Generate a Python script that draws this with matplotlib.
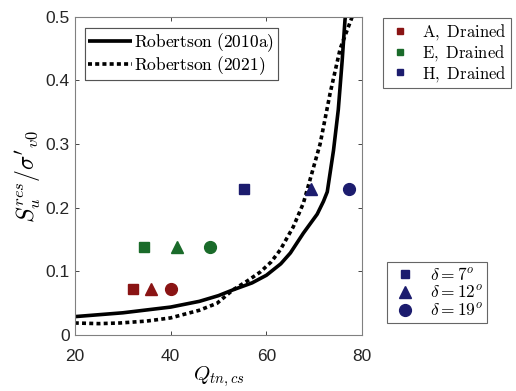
import matplotlib
matplotlib.use('Agg')
import matplotlib.pyplot as plt
from matplotlib.lines import Line2D

plt.rcParams['mathtext.fontset'] = 'cm'
plt.rcParams['font.family'] = ['Liberation Sans', 'DejaVu Sans']

# Robertson (2010a) curve
rob2010_q = [20, 30, 40, 46, 50, 53, 57, 60, 63, 65, 67.7, 70.6, 71.9, 72.7, 74, 75, 75.8, 76.4, 76.8]
rob2010_s = [0.029, 0.035, 0.044, 0.053, 0.062, 0.071, 0.082, 0.094, 0.112, 0.129, 0.160, 0.190, 0.210, 0.225, 0.29, 0.354, 0.43, 0.495, 0.52]

# Robertson (2021) curve
rob2021_q = [20, 25, 29.4, 35, 40, 46, 49.7, 53, 56, 58.7, 61, 62.9, 65.6, 67.7, 68.5, 71.2, 73.3, 75.4, 77.9, 78.3]
rob2021_s = [0.019, 0.018, 0.019, 0.022, 0.027, 0.039, 0.050, 0.071, 0.085, 0.099, 0.115, 0.134, 0.170, 0.207, 0.228, 0.30, 0.38, 0.45, 0.50, 0.52]

# test results: sand, delta, Qtn,cs, Su_res/sigma'v0
sands = ['A', 'E', 'H']
sand_colors = ['#8a1414', '#1a6b2a', '#1c1c6e']
deltas = [7, 12, 19]
delta_markers = ['s', '^', 'o']
q_values = [[32.2, 36.0, 40.0],
            [34.5, 41.3, 48.2],
            [55.4, 69.3, 77.3]]
s_values = [[0.072, 0.073, 0.072],
            [0.138, 0.139, 0.138],
            [0.230, 0.230, 0.230]]

fig = plt.figure(figsize=(5.16, 3.91), dpi=100)
ax = fig.add_axes([0.145, 0.143, 0.557, 0.814])

l1, = ax.plot(rob2010_q, rob2010_s, color='black', lw=2.6, solid_capstyle='butt')
l2, = ax.plot(rob2021_q, rob2021_s, color='black', lw=2.6, ls=(0, (1.1, 0.9)))

for i, sand in enumerate(sands):
    for j, mk in enumerate(delta_markers):
        size = 6.5 if mk == 's' else 8.5
        ax.plot(q_values[i][j], s_values[i][j], marker=mk, ls='none',
                color=sand_colors[i], markersize=size)

ax.set_xlim(20, 80)
ax.set_ylim(0, 0.5)
ax.set_xticks([20, 40, 60, 80])
ax.set_yticks([0, 0.1, 0.2, 0.3, 0.4, 0.5])
ax.set_yticklabels(['0', '0.1', '0.2', '0.3', '0.4', '0.5'])
ax.tick_params(direction='in', top=True, right=True, labelsize=12.5,
               colors='#262626', length=3, width=0.6)
ax.tick_params(axis='x', pad=10)
for sp in ax.spines.values():
    sp.set_color('#808080')
    sp.set_linewidth(0.8)

ax.set_xlabel(r'$Q_{tn,cs}$', fontsize=15, labelpad=0)
ax.set_ylabel(r"$S_u^{res}/\sigma'_{v0}$", fontsize=17, labelpad=2)

cm = lambda s: r'$\mathrm{' + s.replace(' ', r'\ ') + '}$'

leg1 = ax.legend([l1, l2], [cm('Robertson (2010a)'), cm('Robertson (2021)')],
                 loc='upper left', bbox_to_anchor=(0.035, 0.965), fontsize=12.5,
                 frameon=True, fancybox=False, edgecolor='#404040',
                 handlelength=2.5, handletextpad=0.15, borderpad=0.2,
                 labelspacing=0.0, borderaxespad=0)
leg1.get_frame().set_linewidth(0.8)
ax.add_artist(leg1)

sand_handles = [Line2D([], [], marker='s', ls='none', color=c, markersize=5)
                for c in sand_colors]
leg2 = fig.legend(sand_handles, [cm(s + ', Drained') for s in sands],
                  loc='upper left', bbox_to_anchor=(0.742, 0.954), fontsize=12,
                  frameon=True, fancybox=False, edgecolor='#404040',
                  handlelength=1.6, handletextpad=0.5, borderpad=0.25,
                  labelspacing=0.05, borderaxespad=0)
leg2.get_frame().set_linewidth(0.8)

delta_handles = [Line2D([], [], marker=m, ls='none', color=sand_colors[2],
                        markersize=6 if m == 's' else 8.5) for m in delta_markers]
leg3 = fig.legend(delta_handles, [r'$\delta = %d^o$' % d for d in deltas],
                  loc='upper left', bbox_to_anchor=(0.75, 0.33), fontsize=12.5,
                  frameon=True, fancybox=False, edgecolor='#404040',
                  handlelength=1.6, handletextpad=0.6, borderpad=0.25,
                  labelspacing=0.05, borderaxespad=0)
leg3.get_frame().set_linewidth(0.8)

fig.savefig('out.png', dpi=100)
